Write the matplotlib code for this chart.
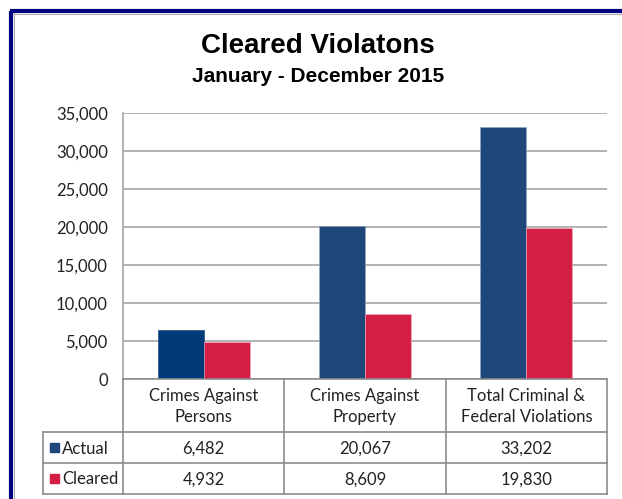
import matplotlib
matplotlib.use("Agg")
import matplotlib.pyplot as plt
import numpy as np

# Datos
categorias = ["Crimes Against\nPersons", "Crimes Against\nProperty", "Total Criminal &\nFederal Violations"]
series = ["Actual", "Cleared"]
actual = [6482, 20067, 33202]
cleared = [4932, 8609, 19830]
yticks = [0, 5000, 10000, 15000, 20000, 25000, 30000, 35000]

c_actual = "#1F477A"
c_actual_first = "#003A78"
c_cleared = "#D41E46"
c_grid = "#A6A6A6"
fuente = ["Lato", "DejaVu Sans"]

W, H = 622, 499
fig = plt.figure(figsize=(W / 100, H / 100), dpi=100)

# Ejes del grafico (en pixeles)
x0, x1, y_top, y_zero = 123, 607, 113, 379
ax = fig.add_axes([x0 / W, 1 - y_zero / H, (x1 - x0) / W, (y_zero - y_top) / H])

x = np.arange(len(categorias))
w = 0.285
b1 = ax.bar(x - w / 2, actual, w, color=c_actual, edgecolor="#8EA6C8", linewidth=0.4)
b1[0].set_color(c_actual_first)
ax.bar(x + w / 2, cleared, w, color=c_cleared, edgecolor="#F2B5C2", linewidth=0.4)

ax.set_xlim(-0.5, len(categorias) - 0.5)
ax.set_ylim(0, 35000)
ax.set_yticks(yticks)
ax.set_yticklabels([f"{v:,}" for v in yticks], fontsize=12, family=fuente, color="#222222")
ax.set_xticks([])
ax.tick_params(axis="y", length=0, pad=11)
ax.yaxis.grid(True, color=c_grid, linewidth=1.2)
ax.set_axisbelow(True)
for s in ["top", "right", "bottom"]:
    ax.spines[s].set_visible(False)
ax.spines["left"].set_color(c_grid)
ax.spines["left"].set_linewidth(1.2)

# Capa superpuesta en pixeles para tabla, titulo y marco
ov = fig.add_axes([0, 0, 1, 1])
ov.set_xlim(0, W)
ov.set_ylim(H, 0)
ov.axis("off")
ov.patch.set_alpha(0)

# Marco azul
ov.plot([11, 11], [11, H + 5], color="#000080", linewidth=3, solid_capstyle="butt")
ov.plot([10, W + 5], [11, 11], color="#000080", linewidth=3, solid_capstyle="butt")
ov.plot([13.5, 13.5], [13, H + 5], color="#B0B0B0", linewidth=0.8)
ov.plot([13, W + 5], [13.5, 13.5], color="#B0B0B0", linewidth=0.8)

# Titulos
ov.text(318, 46, "Cleared Violatons", ha="center", va="center", fontsize=20,
        weight="bold", family="Liberation Sans")
ov.text(318, 76, "January - December 2015", ha="center", va="center", fontsize=15,
        weight="bold", family="Liberation Sans")

# Tabla de datos
tl = 43
cw = (x1 - x0) / len(categorias)
r0, r1, r2, r3 = y_zero, 432, 463, 494
lc = dict(color="#8C8C8C", linewidth=1.2)
ov.plot([x0, x1], [r0, r0], **lc)
for yy in (r1, r2, r3):
    ov.plot([tl, x1], [yy, yy], **lc)
ov.plot([tl, tl], [r1, r3], **lc)
for i in range(len(categorias) + 1):
    ov.plot([x0 + i * cw, x0 + i * cw], [r0, r3], **lc)

for i, cat in enumerate(categorias):
    cx = x0 + (i + 0.5) * cw
    ov.text(cx, (r0 + r1) / 2 + 1, cat, ha="center", va="center", fontsize=12,
            family=fuente, color="#222222", linespacing=1.45)
    ov.text(cx, (r1 + r2) / 2 + 1, f"{actual[i]:,}", ha="center", va="center",
            fontsize=12, family=fuente, color="#222222")
    ov.text(cx, (r2 + r3) / 2 + 1, f"{cleared[i]:,}", ha="center", va="center",
            fontsize=12, family=fuente, color="#222222")

for nombre, col, (ya, yb) in zip(series, [c_actual, c_cleared], [(r1, r2), (r2, r3)]):
    ym = (ya + yb) / 2
    ov.add_patch(plt.Rectangle((50, ym - 4.5), 9, 9, color=col))
    ov.text(62, ym + 1, nombre, ha="left", va="center", fontsize=12,
            family=fuente, color="#222222")

fig.savefig("out.png", dpi=100)
